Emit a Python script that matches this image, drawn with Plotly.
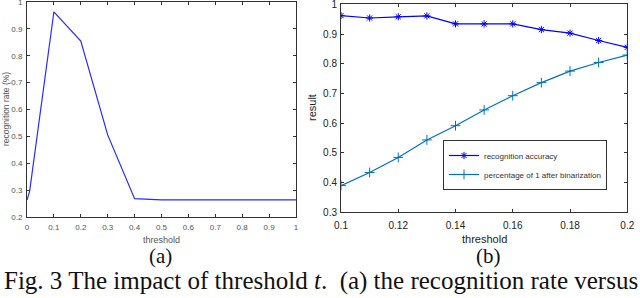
import plotly.graph_objects as go

# (a) recognition rate vs threshold
a_x = [0, 0.01, 0.1, 0.2, 0.3, 0.4, 0.5, 0.6, 0.7, 0.8, 0.9, 1.0]
a_y = [0.264, 0.298, 0.963, 0.854, 0.506, 0.269, 0.265, 0.265, 0.265, 0.265, 0.265, 0.265]

# (b) result vs threshold
b_x = [0.10, 0.11, 0.12, 0.13, 0.14, 0.15, 0.16, 0.17, 0.18, 0.19, 0.20]
b_acc = [0.962, 0.954, 0.958, 0.961, 0.934, 0.934, 0.934, 0.915, 0.903, 0.878, 0.855]
b_pct = [0.389, 0.433, 0.484, 0.543, 0.591, 0.644, 0.692, 0.736, 0.775, 0.804, 0.829]

a_xticks = [0, 0.1, 0.2, 0.3, 0.4, 0.5, 0.6, 0.7, 0.8, 0.9, 1]
a_xlabels = ["0", "0.1", "0.2", "0.3", "0.4", "0.5", "0.6", "0.7", "0.8", "0.9", "1"]
a_yticks = [0.2, 0.3, 0.4, 0.5, 0.6, 0.7, 0.8, 0.9, 1]
a_ylabels = ["0.2", "0.3", "0.4", "0.5", "0.6", "0.7", "0.8", "0.9", "1"]
b_xticks = [0.1, 0.12, 0.14, 0.16, 0.18, 0.2]
b_xlabels = ["0.1", "0.12", "0.14", "0.16", "0.18", "0.2"]
b_yticks = [0.3, 0.4, 0.5, 0.6, 0.7, 0.8, 0.9, 1]
b_ylabels = ["0.3", "0.4", "0.5", "0.6", "0.7", "0.8", "0.9", "1"]

W, H = 640, 298
fig = go.Figure()

fig.add_trace(go.Scatter(x=a_x, y=a_y, mode="lines", line=dict(color="#2a2aff", width=1.2),
                         xaxis="x", yaxis="y", showlegend=False))
fig.add_trace(go.Scatter(x=b_x, y=b_acc, mode="lines+markers", name="recognition accuracy",
                         line=dict(color="#0000ff", width=1.2),
                         marker=dict(symbol="asterisk-open", size=6, color="#0000ff",
                                     line=dict(width=1, color="#0000ff")),
                         xaxis="x2", yaxis="y2"))
fig.add_trace(go.Scatter(x=b_x, y=b_pct, mode="lines+markers", name="percentage of 1 after binarization",
                         line=dict(color="#0072bd", width=1.2),
                         marker=dict(symbol="cross-thin-open", size=7, color="#0072bd",
                                     line=dict(width=1, color="#0072bd")),
                         xaxis="x2", yaxis="y2"))


def px_x(p):
    return p / W


def px_y(p):
    return 1 - p / H


def axstyle(size, color):
    return dict(showgrid=False, zeroline=False, showline=True, linecolor="#333", linewidth=1,
                mirror="allticks", ticks="inside", ticklen=3, tickcolor="#333", automargin=False,
                ticklabeloverflow="allow",
                tickfont=dict(family="Liberation Sans, Arial", size=size, color=color))


fig.update_layout(
    width=W, height=H, margin=dict(l=0, r=0, t=0, b=0, autoexpand=False),
    paper_bgcolor="white", plot_bgcolor="white",
    xaxis=dict(domain=[px_x(27), px_x(296)], range=[0, 1.0001], tickvals=a_xticks, ticktext=a_xlabels,
               anchor="y", ticklabelstandoff=2, **axstyle(8, "#555")),
    yaxis=dict(domain=[px_y(217.3), px_y(1.8)], range=[0.2, 1.0001], tickvals=a_yticks, ticktext=a_ylabels,
               anchor="x", ticklabelstandoff=2, **axstyle(8, "#555")),
    xaxis2=dict(domain=[px_x(341), px_x(627.3)], range=[0.1, 0.20001], tickvals=b_xticks, ticktext=b_xlabels,
                anchor="y2", ticklabelstandoff=4, **axstyle(10, "#222")),
    yaxis2=dict(domain=[px_y(212), px_y(4.3)], range=[0.3, 1.0001], tickvals=b_yticks, ticktext=b_ylabels,
                anchor="x2", ticklabelstandoff=1, **axstyle(10, "#222")),
    legend=dict(x=px_x(443), y=px_y(140), xanchor="left", yanchor="top",
                bgcolor="white", bordercolor="#333", borderwidth=1,
                font=dict(family="Liberation Sans, Arial", size=8, color="#333"),
                itemwidth=30, tracegroupgap=0),
    showlegend=True,
)


def label(text, x, y, size, family, color, angle=0, xanchor="center"):
    return dict(text=text, x=px_x(x), y=px_y(y), xref="paper", yref="paper",
                xanchor=xanchor, yanchor="middle", textangle=angle, showarrow=False,
                font=dict(family=family, size=size, color=color))


SANS = "Liberation Sans, Arial"
SERIF = "Liberation Serif, Times New Roman"
ann = [
    label("threshold", 161, 240, 9, SANS, "#555"),
    label("recognition rate (%)", 6, 109, 8.5, SANS, "#555", angle=-90),
    label("threshold", 484, 239, 11, SANS, "#222"),
    label("result", 312, 108, 11, SANS, "#222", angle=-90),
    label("(a)", 160, 256, 21, SERIF, "#111"),
    label("(b)", 488, 256, 21, SERIF, "#111"),
    label("Fig. 3 The impact of threshold <i>t</i>.  (a) the recognition rate versus",
          2, 281, 25, SERIF, "#111", xanchor="left"),
]
fig.update_layout(annotations=ann)

fig.write_html("out.html", config={"displayModeBar": False},
               post_script="document.body.style.margin='0';")
